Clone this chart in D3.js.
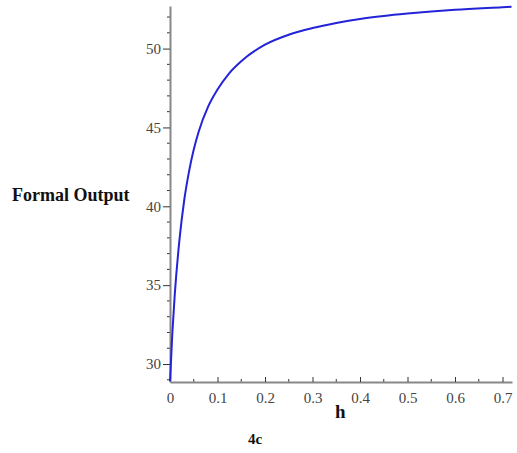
<!DOCTYPE html>
<html>
<head>
<meta charset="utf-8">
<script src="https://cdn.jsdelivr.net/npm/d3@7"></script>
<style>
  body { margin: 0; background: #fff; }
  .tick text { font-family: "Liberation Serif", "DejaVu Serif", serif; font-size: 15px; fill: #444; }
</style>
</head>
<body>
<div id="chart"></div>
<script>
// values
const hValues = [0, 0.005, 0.01, 0.02, 0.03, 0.04, 0.05, 0.06, 0.08, 0.1, 0.125, 0.15, 0.2, 0.25, 0.3, 0.35, 0.4, 0.45, 0.5, 0.6, 0.7, 0.719];
const outputValues = [28.9, 32.0, 34.4, 37.9, 40.4, 42.2, 43.6, 44.7, 46.3, 47.4, 48.45, 49.2, 50.25, 50.88, 51.3, 51.62, 51.88, 52.07, 52.22, 52.46, 52.62, 52.65];
const xTicks = [0, 0.1, 0.2, 0.3, 0.4, 0.5, 0.6, 0.7];
const yTicks = [30, 35, 40, 45, 50];

const width = 517, height = 453;
const plot = {left: 170, right: 512, top: 6, bottom: 382};

const svg = d3.select("#chart").append("svg")
    .attr("width", width)
    .attr("height", height);

const xScale = d3.scaleLinear().domain([0, 0.72]).range([plot.left, plot.right]);
const yScale = d3.scaleLinear().domain([28.86, 52.7]).range([plot.bottom, plot.top]);

const data = hValues.map((h, i) => ({h: h, y: outputValues[i]}));

// minor ticks
const xMinor = d3.range(0.05, 0.72, 0.1);
const yMinor = d3.range(29, 53, 1).filter(v => v % 5 !== 0);

svg.append("g").selectAll("line").data(xMinor).enter().append("line")
    .attr("x1", d => xScale(d)).attr("x2", d => xScale(d))
    .attr("y1", plot.bottom).attr("y2", plot.bottom - 3)
    .attr("stroke", "#333");

svg.append("g").selectAll("line").data(yMinor).enter().append("line")
    .attr("x1", plot.left - 3).attr("x2", plot.left)
    .attr("y1", d => yScale(d)).attr("y2", d => yScale(d))
    .attr("stroke", "#333");

// x axis
const xAxis = svg.append("g")
    .attr("transform", `translate(0,${plot.bottom})`)
    .call(d3.axisBottom(xScale).tickValues(xTicks).tickSizeInner(-5).tickSizeOuter(0).tickPadding(10)
      .tickFormat(d => d === 0 ? "0" : d3.format(".1f")(d)));
xAxis.select(".domain").attr("stroke", "#888").attr("stroke-width", 2);
xAxis.selectAll(".tick line").attr("stroke", "#333");

// y axis
const yAxis = svg.append("g")
    .attr("transform", `translate(${plot.left},0)`)
    .call(d3.axisLeft(yScale).tickValues(yTicks).tickSize(7).tickSizeOuter(0).tickPadding(2));
yAxis.select(".domain").attr("stroke", "#888").attr("stroke-width", 2);
yAxis.selectAll(".tick line").attr("stroke", "#333");

// curve
const line = d3.line()
    .x(d => xScale(d.h))
    .y(d => yScale(d.y))
    .curve(d3.curveMonotoneX);

svg.append("path")
    .datum(data)
    .attr("d", line)
    .attr("fill", "none")
    .attr("stroke", "#2323d8")
    .attr("stroke-width", 2);

// labels
svg.append("text")
    .attr("x", 12).attr("y", 201)
    .style("font-family", "Liberation Serif, serif")
    .style("font-size", "18px")
    .style("font-weight", "bold")
    .style("fill", "#111")
    .text("Formal Output");

svg.append("text")
    .attr("x", 335).attr("y", 418)
    .style("font-family", "Liberation Serif, serif")
    .style("font-size", "19px")
    .style("font-weight", "bold")
    .style("fill", "#111")
    .text("h");

svg.append("text")
    .attr("x", 248).attr("y", 444)
    .style("font-family", "Liberation Serif, serif")
    .style("font-size", "15px")
    .style("font-weight", "bold")
    .style("fill", "#111")
    .text("4c");
</script>
</body>
</html>
